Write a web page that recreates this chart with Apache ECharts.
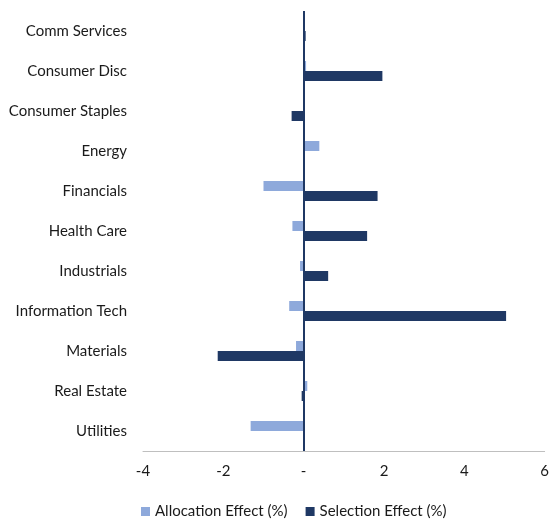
<!DOCTYPE html>
<html>
<head>
<meta charset="utf-8">
<script src="https://cdn.jsdelivr.net/npm/echarts@6/dist/echarts.min.js"></script>
<style>html,body{margin:0;padding:0;background:#fff;}#c{width:552px;height:523px;}</style>
</head>
<body>
<div id="c"></div>
<script>
var categories = ["Comm Services","Consumer Disc","Consumer Staples","Energy","Financials","Health Care","Industrials","Information Tech","Materials","Real Estate","Utilities"];
var allocation = [0.0, 0.06, 0.0, 0.39, -1.0, -0.28, -0.09, -0.36, -0.19, 0.09, -1.32];
var selection = [0.05, 1.96, -0.30, 0.0, 1.84, 1.58, 0.61, 5.04, -2.14, -0.05, 0.0];
var xTicks = [-4, -2, 0, 2, 4, 6];
var seriesNames = ["Allocation Effect (%)", "Selection Effect (%)"];

var font = "Lato";
var chart = echarts.init(document.getElementById('c'));
chart.setOption({
  animation: false,
  textStyle: {fontFamily: font},
  grid: {left: 143, right: 7, top: 11, bottom: 72},
  legend: {
    bottom: -1, left: 136,
    itemWidth: 9, itemHeight: 9, icon: 'rect', itemGap: 18,
    textStyle: {fontFamily: font, fontSize: 15, color: '#1a1a1a'},
    data: seriesNames
  },
  xAxis: {
    type: 'value', min: xTicks[0], max: xTicks[xTicks.length-1], interval: 2,
    axisLine: {show: true, onZero: false, lineStyle: {color: '#BFBFBF', width: 1}},
    axisTick: {show: false},
    splitLine: {show: false},
    axisLabel: {margin: 13, fontSize: 15, color: '#1a1a1a', fontFamily: font,
      formatter: function(v){ return v === 0 ? '-' : String(v); }}
  },
  yAxis: {
    type: 'category', data: categories, inverse: true,
    axisLine: {show: false, onZero: false},
    axisTick: {show: false},
    axisLabel: {margin: 16, fontSize: 15, color: '#1a1a1a', fontFamily: font}
  },
  series: [
    {name: seriesNames[0], type: 'bar', data: allocation, barWidth: 10, barGap: '0%',
      itemStyle: {color: '#8EA9DB'}},
    {name: seriesNames[1], type: 'bar', data: selection, barWidth: 10, barGap: '0%',
      itemStyle: {color: '#1F3864'},
      markLine: {silent: true, symbol: ['none','none'], label: {show: false},
        lineStyle: {color: '#1F3864', width: 2, type: 'solid'},
        data: [{xAxis: 0}]}}
  ]
});
</script>
</body>
</html>
